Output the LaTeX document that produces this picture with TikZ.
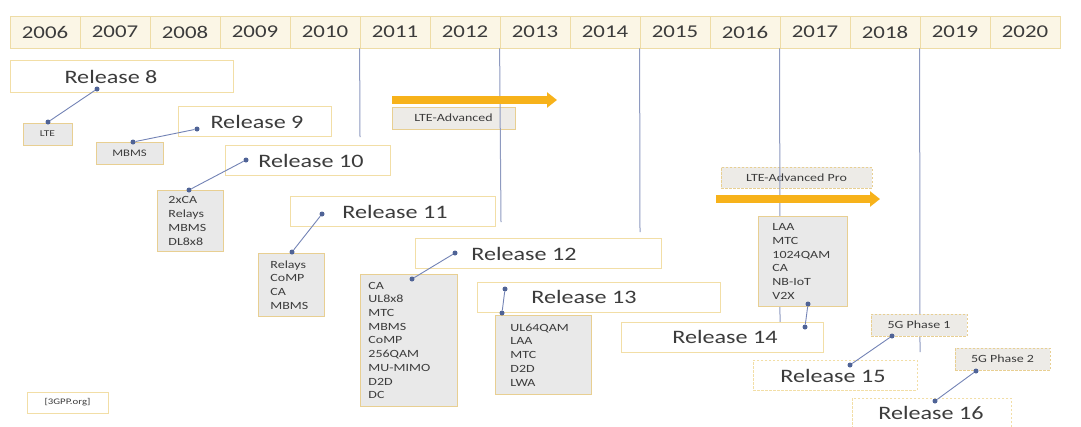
\documentclass[tikz,border=0pt]{standalone}
\usepackage{fontspec}
\setmainfont{Carlito}[FakeStretch=1.27]
\usetikzlibrary{arrows.meta}
\definecolor{barfill}{HTML}{FBF6E6}
\definecolor{bargold}{HTML}{EEDCA6}
\definecolor{relgold}{HTML}{F2DEA6}
\definecolor{featgold}{HTML}{E8CF92}
\definecolor{featgrey}{HTML}{E9E9E9}
\definecolor{tagfill}{HTML}{EDEBE7}
\definecolor{txt}{HTML}{3C3C3C}
\definecolor{dotblue}{HTML}{4F6396}
\definecolor{connblue}{HTML}{7383B5}
\definecolor{vgrey}{HTML}{8E9AC0}
\definecolor{arrorange}{HTML}{F7B21A}
\tikzset{
  yearcell/.style={draw=bargold, fill=barfill, line width=0.8pt, minimum width=70pt,
    minimum height=32pt, inner sep=0, text=txt, font=\fontsize{18}{20}\selectfont},
  relbox/.style={draw=relgold, fill=white, line width=0.9pt, inner sep=0},
  reltext/.style={inner sep=0, text=txt, font=\fontsize{19}{22}\selectfont},
  featbox/.style={draw=featgold, fill=featgrey, line width=0.9pt, align=left,
    inner ysep=0, text=txt, font=\fontsize{11}{13.7}\selectfont},
  tagbox/.style={draw=featgold, fill=tagfill, line width=0.9pt, inner sep=0,
    text=txt, font=\fontsize{11}{13}\selectfont},
  dot/.style={circle, fill=dotblue, inner sep=0, minimum size=5pt},
  conn/.style={draw=connblue, line width=0.9pt},
  vline/.style={draw=vgrey, line width=1pt},
  bigarrow/.style={draw=arrorange, line width=8pt, -{Triangle[length=10pt,width=15pt]}},
  softdash/.style={dash pattern=on 2.5pt off 1.5pt}
}
\begin{document}
\begin{tikzpicture}[x=1pt,y=-1pt]
\path[use as bounding box] (0,0) rectangle (1081,426);
\clip (0,0) rectangle (1081,426);

% year bar
\foreach \yr [count=\i from 0] in {2006,...,2020}
  \node[yearcell] (y\yr) at ({45+70*\i},32) {\yr};

% tag boxes that the release lines run across
\node[tagbox, minimum width=123pt, minimum height=22pt] (lteadv) at (453.5,118) {LTE-Advanced};
\node[tagbox, softdash, minimum width=151pt, minimum height=21pt] (lteadvpro) at (796.5,177.5) {LTE-Advanced Pro};

% release milestone lines
\coordinate (v11) at (360,137);
\coordinate (v13) at (501,222);
\coordinate (v15) at (640,232);
\coordinate (v17) at (780,322);
\coordinate (v19) at (920,352);
\draw[vline] (y2011.south west) -- (v11);
\draw[vline] (y2013.south west) -- (v13);
\draw[vline] (y2015.south west) -- (v15);
\draw[vline] (y2017.south west) -- (v17);
\draw[vline] (y2019.south west) -- (v19);

% technology arrows
\coordinate (a1s) at (392,100);
\coordinate (a1e) at (557,100);
\coordinate (a2s) at (716,199);
\coordinate (a2e) at (880,199);
\draw[bigarrow] (a1s) -- (a1e);
\draw[bigarrow] (a2s) -- (a2e);

% Release 8
\node[relbox, minimum width=223pt, minimum height=32pt] (r8) at (121.5,76) {};
\node[reltext] (r8t) at (111,77) {Release 8};
\node[tagbox, fill=featgrey, minimum width=49pt, minimum height=22pt] (f8) at (47.5,134) {\fontsize{9}{11}\selectfont LTE};
\node[dot] (d8a) at (97,89) {};
\node[dot] (d8b) at (48,122) {};
\draw[conn] (d8a) -- (d8b);

% Release 9
\node[relbox, minimum width=153pt, minimum height=30pt] (r9) at (254.5,121.5) {};
\node[reltext] (r9t) at (257,122) {Release 9};
\node[tagbox, fill=featgrey, minimum width=67pt, minimum height=22pt] (f9) at (129.5,153) {\fontsize{10}{12}\selectfont MBMS};
\node[dot] (d9a) at (197,129) {};
\node[dot] (d9b) at (133,142) {};
\draw[conn] (d9a) -- (d9b);

% Release 10
\node[relbox, minimum width=165pt, minimum height=30pt] (r10) at (307.5,160) {};
\node[reltext] (r10t) at (311,161) {Release 10};
\node[featbox, anchor=north west, minimum width=66pt, minimum height=61pt,
  inner xsep=11pt, text width=44pt] (f10) at (157,190) {2xCA\\Relays\\MBMS\\DL8x8};
\node[dot] (d10a) at (246,160) {};
\node[dot] (d10b) at (189,190) {};
\draw[conn] (d10a) -- (d10b);

% Release 11
\node[relbox, minimum width=205pt, minimum height=30pt] (r11) at (392.5,211) {};
\node[reltext] (r11t) at (395,212) {Release 11};
\node[featbox, anchor=north west, minimum width=66pt, minimum height=63pt,
  inner xsep=12pt, text width=42pt] (f11) at (258,253) {Relays\\CoMP\\CA\\MBMS};
\node[dot] (d11a) at (322,214) {};
\node[dot] (d11b) at (292,252) {};
\draw[conn] (d11a) -- (d11b);

% Release 12
\node[relbox, minimum width=246pt, minimum height=30pt] (r12) at (538,253) {};
\node[reltext] (r12t) at (524,254) {Release 12};
\node[featbox, anchor=north west, minimum width=97pt, minimum height=132pt,
  inner xsep=8pt, text width=81pt] (f12) at (360,274)
  {CA\\UL8x8\\MTC\\MBMS\\CoMP\\256QAM\\MU-MIMO\\D2D\\DC};
\node[dot] (d12a) at (455,253) {};
\node[dot] (d12b) at (412,279) {};
\draw[conn] (d12a) -- (d12b);

% Release 13
\node[relbox, minimum width=243pt, minimum height=30pt] (r13) at (598.5,297) {};
\node[reltext] (r13t) at (584,297) {Release 13};
\node[featbox, anchor=north west, minimum width=96pt, minimum height=79pt,
  inner xsep=15pt, text width=66pt] (f13) at (495,315) {UL64QAM\\LAA\\MTC\\D2D\\LWA};
\node[dot] (d13a) at (505,289) {};
\node[dot] (d13b) at (502,313) {};
\draw[conn] (d13a) -- (d13b);

% Release 14
\node[relbox, minimum width=202pt, minimum height=30pt] (r14) at (722,337) {};
\node[reltext] (r14t) at (725,337) {Release 14};
\node[featbox, anchor=north west, minimum width=89pt, minimum height=90pt,
  inner xsep=14pt, text width=61pt] (f14) at (758,216) {LAA\\MTC\\1024QAM\\CA\\NB-IoT\\V2X};
\node[dot] (d14a) at (805,327) {};
\node[dot] (d14b) at (808,304) {};
\draw[conn] (d14a) -- (d14b);

% Release 15
\node[relbox, softdash, minimum width=164pt, minimum height=30pt] (r15) at (835,375) {};
\node[reltext] (r15t) at (833,376) {Release 15};
\node[tagbox, softdash, minimum width=96pt, minimum height=22pt] (g1) at (919,325) {5G Phase 1};
\node[dot] (d15a) at (850,365) {};
\node[dot] (d15b) at (892,336) {};
\draw[conn] (d15a) -- (d15b);

% Release 16
\node[relbox, softdash, minimum width=159pt, minimum height=34pt] (r16) at (931.5,415) {};
\node[reltext] (r16t) at (931,413) {Release 16};
\node[tagbox, softdash, minimum width=95pt, minimum height=22pt] (g2) at (1002.5,359) {5G Phase 2};
\node[dot] (d16a) at (935,401) {};
\node[dot] (d16b) at (976,371) {};
\draw[conn] (d16a) -- (d16b);

% source note
\node[draw=relgold, fill=white, line width=0.8pt, minimum width=81pt, minimum height=21pt,
  inner sep=0, text=txt, font=\fontsize{8.5}{10}\selectfont] (src) at (67.5,402.5) {[3GPP.org]};
\end{tikzpicture}
\end{document}
